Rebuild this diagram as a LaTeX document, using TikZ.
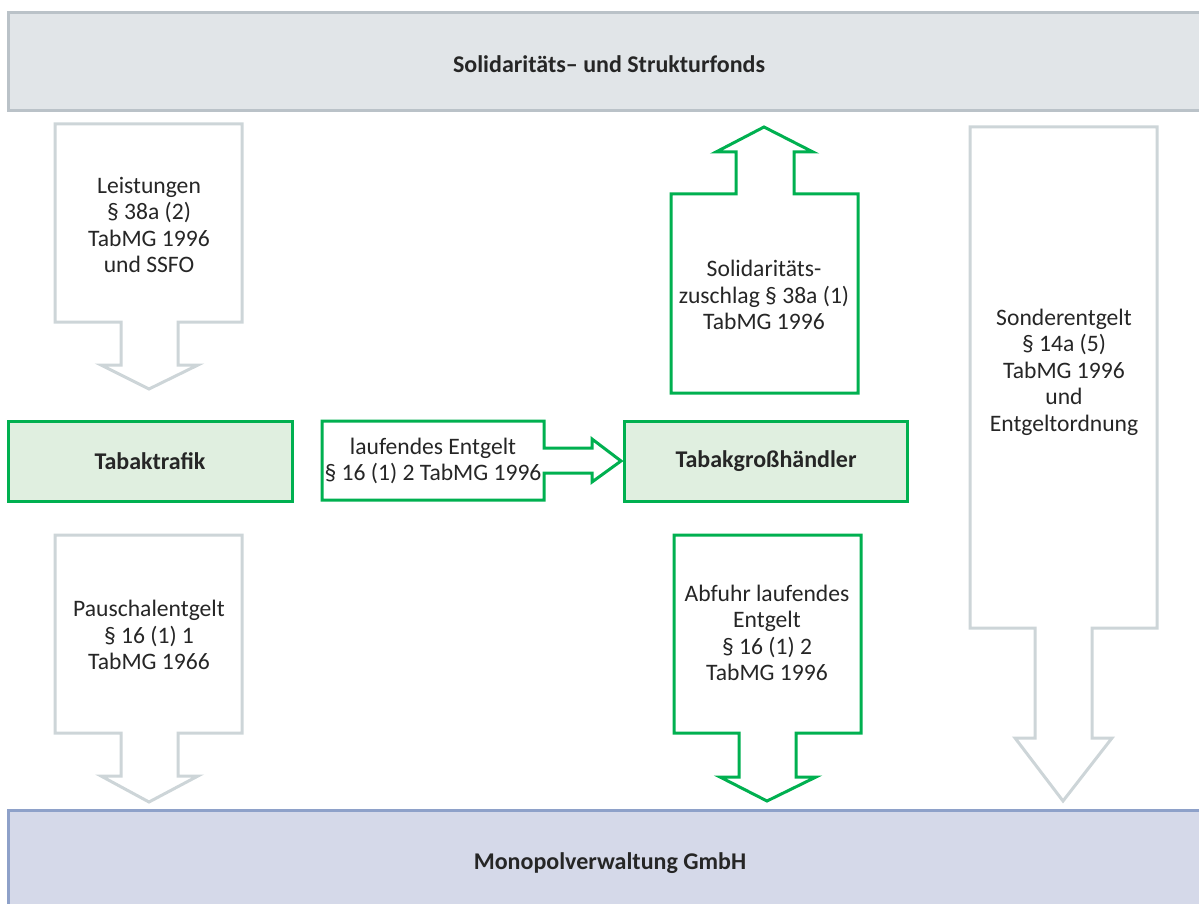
\documentclass[tikz,border=0pt]{standalone}
\usepackage{fontspec}
\setmainfont{Carlito}
\definecolor{grn}{HTML}{00B050}
\definecolor{grnfill}{HTML}{E0EFE0}
\definecolor{gryline}{HTML}{CDD5D8}
\definecolor{topfill}{HTML}{E1E5E8}
\definecolor{topline}{HTML}{BAC2C8}
\definecolor{botfill}{HTML}{D5D9E9}
\definecolor{botline}{HTML}{8EA1C9}
\definecolor{txt}{HTML}{262626}
\tikzset{
  lbl/.style={align=center, text=txt, font=\fontsize{23.6}{26.5}\selectfont, inner sep=0pt},
  blbl/.style={lbl, font=\fontsize{24}{26.5}\selectfont\bfseries},
  greyarrow/.style={draw=gryline, line width=3pt, fill=white, line join=miter},
  greenarrow/.style={draw=grn, line width=3pt, fill=white, line join=miter},
  greenbox/.style={draw=grn, line width=3pt, fill=grnfill},
}
\begin{document}
\begin{tikzpicture}[x=1pt,y=-1pt]
\useasboundingbox (0,0) rectangle (1199,904);
% bars
\fill[topfill] (8,13) rectangle (1215,111);
\draw[topline, line width=3pt] (1215,13) -- (8,13) -- (8,111) -- (1215,111);
\fill[botfill] (8,810) rectangle (1215,920);
\draw[botline, line width=3pt] (1215,810) -- (8,810) -- (8,920);
\node[blbl] (ssf) at (609,64) {Solidaritäts– und Strukturfonds};
\node[blbl] (mv) at (610,863) {Monopolverwaltung GmbH};
% boxes
\draw[greenbox] (8,421) rectangle (292,501);
\node[blbl] (tt) at (150,461) {Tabaktrafik};
\draw[greenbox] (624,421) rectangle (907,501);
\node[blbl] (tg) at (766,461) {Tabakgroßhändler};
% Leistungen arrow
\draw[greyarrow] (55,124) -- (242,124) -- (242,322) -- (178,322) -- (178,365) -- (198,365) -- (149,389) -- (101,365) -- (121,365) -- (121,322) -- (55,322) -- cycle;
\node[lbl] (leist) at (149,225) {Leistungen\\§ 38a (2)\\TabMG 1996\\und SSFO};
% Pauschal arrow
\draw[greyarrow] (55,535) -- (242,535) -- (242,733) -- (178,733) -- (178,776) -- (198,776) -- (149,802) -- (101,776) -- (121,776) -- (121,733) -- (55,733) -- cycle;
\node[lbl] (pausch) at (149,635) {Pauschalentgelt\\§ 16 (1) 1\\TabMG 1966};
% Sonder arrow
\draw[greyarrow] (970,127) -- (1157,127) -- (1157,628) -- (1092,628) -- (1092,738) -- (1112,738) -- (1063,801) -- (1015,738) -- (1035,738) -- (1035,628) -- (970,628) -- cycle;
\node[lbl] (sonder) at (1064,372) {Sonderentgelt\\§ 14a (5)\\TabMG 1996\\und\\Entgeltordnung};
% Solidaritaet up arrow
\draw[greenarrow] (671,393) -- (858,393) -- (858,194) -- (794,194) -- (794,152) -- (813,152) -- (764,127) -- (716,152) -- (736,152) -- (736,194) -- (671,194) -- cycle;
\node[lbl] (solz) at (764,295) {Solidaritäts-\\zuschlag § 38a (1)\\TabMG 1996};
% Abfuhr arrow
\draw[greenarrow] (674,535) -- (861,535) -- (861,733) -- (796,733) -- (796,777) -- (816,777) -- (767,801) -- (720,777) -- (739,777) -- (739,733) -- (674,733) -- cycle;
\node[lbl] (abf) at (767,633) {Abfuhr laufendes\\Entgelt\\§ 16 (1) 2\\TabMG 1996};
% laufendes Entgelt right arrow
\draw[greenarrow] (322,421) -- (544,421) -- (544,448) -- (592,448) -- (592,439) -- (621,461) -- (592,482) -- (592,473) -- (544,473) -- (544,500) -- (322,500) -- cycle;
\node[lbl] (lauf) at (433,461) {laufendes Entgelt\\§ 16 (1) 2 TabMG 1996};
\end{tikzpicture}
\end{document}
